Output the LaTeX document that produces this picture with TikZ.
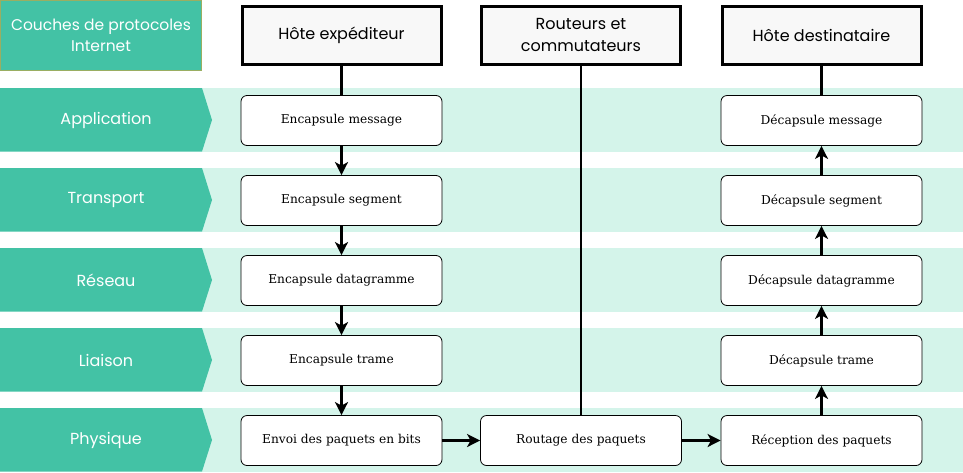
\documentclass[tikz,border=0pt]{standalone}
\usepackage{fontspec}
\setmainfont{DejaVu Serif}
\newfontfamily\hdrfont{Poppins}
\usetikzlibrary{arrows.meta}
\definecolor{teal1}{HTML}{43C2A5}
\definecolor{band}{HTML}{D4F4EA}
\definecolor{olive}{HTML}{9AAE62}
\definecolor{hdrfill}{HTML}{F8F8F8}
\begin{document}
\begin{tikzpicture}[x=1pt,y=-1pt,
  stepbox/.style={draw=black,line width=0.8pt,fill=white,rounded corners=6pt,minimum width=201pt,minimum height=50pt,inner sep=0pt,font=\fontsize{12.2}{14}\selectfont},
  hdrbox/.style={draw=black,line width=3pt,fill=hdrfill,minimum width=199pt,minimum height=58pt,inner sep=0pt,align=center,font=\hdrfont\fontsize{16}{22}\selectfont},
  lbl/.style={text=white,font=\hdrfont\fontsize{16}{18}\selectfont},
  flow/.style={line width=2.6pt,-{Stealth[length=13pt,width=13pt,inset=3.5pt]}},
  link/.style={line width=2.6pt}]
\useasboundingbox (0,0) rectangle (963,472);
\fill[white] (0,0) rectangle (963,472);
% title
\node[draw=olive,line width=0.8pt,fill=teal1,minimum width=201pt,minimum height=70pt,inner sep=0pt,align=center,text=white,font=\hdrfont\fontsize{15.5}{21}\selectfont] (title) at (101,35) {Couches de protocoles\\Internet};
% bands
\foreach \n/\c/\t in {app/120/Application,tra/200/Transport,res/280/R\'eseau,lia/360/Liaison,phy/440/Physique}{
  \fill[band] (202,\c-32) rectangle (963,\c+31.5);
  \fill[teal1] (0,\c-32) -- (202,\c-32) -- (212,\c) -- (202,\c+31.5) -- (0,\c+31.5) -- cycle;
  \node[lbl] (l\n) at (106,\c) {\t};
}
% headers
\node[hdrbox] (hexp) at (341.5,35) {Hôte expéditeur};
\node[hdrbox] (hrout) at (581,35) {Routeurs et\\commutateurs};
\node[hdrbox] (hdst) at (821.5,35) {Hôte destinataire};
% left column
\node[stepbox] (e1) at (341.5,120.5) {Encapsule message};
\node[stepbox] (e2) at (341.5,200.5) {Encapsule segment};
\node[stepbox] (e3) at (341.5,280.5) {Encapsule datagramme};
\node[stepbox] (e4) at (341.5,360.5) {Encapsule trame};
\node[stepbox] (e5) at (341.5,440.5) {Envoi des paquets en bits};
% middle
\node[stepbox] (r1) at (581,440.5) {Routage des paquets};
% right column
\node[stepbox] (d1) at (821.5,120.5) {Décapsule message};
\node[stepbox] (d2) at (821.5,200.5) {Décapsule segment};
\node[stepbox] (d3) at (821.5,280.5) {Décapsule datagramme};
\node[stepbox] (d4) at (821.5,360.5) {Décapsule trame};
\node[stepbox] (d5) at (821.5,440.5) {Réception des paquets};
% connectors
\draw[link] (hexp.south) -- (e1.north);
\draw[link] (hdst.south) -- (d1.north);
\draw[link] (hrout.south) -- (r1.north);
\draw[flow] (e1) -- (e2);
\draw[flow] (e2) -- (e3);
\draw[flow] (e3) -- (e4);
\draw[flow] (e4) -- (e5);
\draw[flow] (e5) -- (r1);
\draw[flow] (r1) -- (d5);
\draw[flow] (d5) -- (d4);
\draw[flow] (d4) -- (d3);
\draw[flow] (d3) -- (d2);
\draw[flow] (d2) -- (d1);
\end{tikzpicture}
\end{document}
